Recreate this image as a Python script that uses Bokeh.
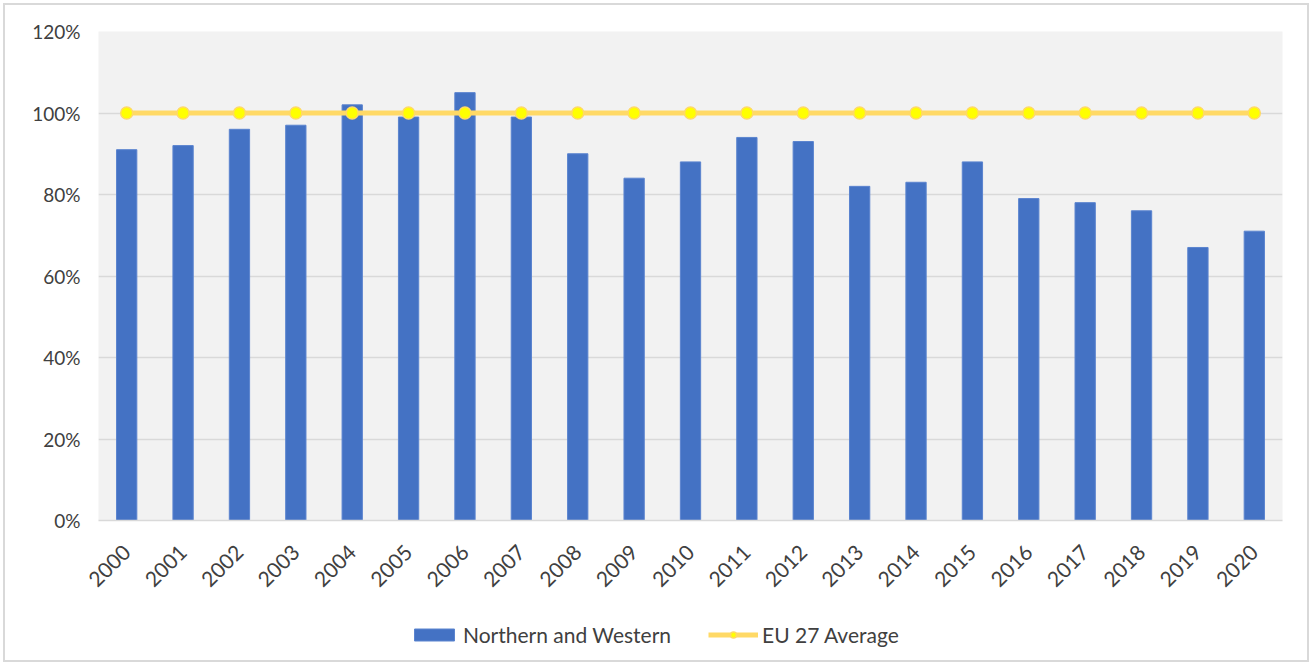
import math
from bokeh.plotting import figure
from bokeh.layouts import column
from bokeh.models import ColumnDataSource, Range1d, FactorRange, PrintfTickFormatter, Legend, LegendItem, FixedTicker
from bokeh.embed import file_html
from bokeh.resources import INLINE

years = [str(y) for y in range(2000, 2021)]
northern_western = [91, 92, 96, 97, 102, 99, 105, 99, 90, 84, 88, 94, 93, 82, 83, 88, 79, 78, 76, 67, 71]
eu27_average = [100] * 21
y_ticks = [0, 20, 40, 60, 80, 100, 120]

FONT = "Lato"
TXT = "#404040"
BAR_STYLE = dict(fill_color="#4472c4", line_color="#5b84cf", line_width=1)
LINE_STYLE = dict(line_color="#ffd966", line_width=5)
DOT_STYLE = dict(size=12, fill_color="#ffff00", line_color="#ffd966", line_width=1.5)

src = ColumnDataSource(dict(year=years, nw=northern_western, eu=eu27_average))

p = figure(width=1302, height=605, x_range=FactorRange(factors=years), y_range=Range1d(0, 120),
           output_backend="svg", toolbar_location=None,
           min_border_left=93, min_border_right=25, min_border_top=26, min_border_bottom=90)
p.background_fill_color = "#f2f2f2"
p.border_fill_color = "white"
p.outline_line_color = None

p.vbar(x="year", top="nw", width=0.36, source=src, **BAR_STYLE)
p.line(x="year", y="eu", source=src, **LINE_STYLE)
p.scatter(x="year", y="eu", source=src, **DOT_STYLE)

p.xgrid.grid_line_color = None
p.ygrid.grid_line_color = "#d9d9d9"
p.ygrid.grid_line_width = 1.5

p.yaxis.ticker = FixedTicker(ticks=y_ticks)
p.yaxis.formatter = PrintfTickFormatter(format="%d%%")
p.yaxis.axis_line_color = None
p.yaxis.major_tick_line_color = None
p.yaxis.minor_tick_line_color = None
p.yaxis.major_label_text_font = FONT
p.yaxis.major_label_text_font_size = "19px"
p.yaxis.major_label_text_color = TXT
p.yaxis.major_label_standoff = 12

p.xaxis.axis_line_color = "#d9d9d9"
p.xaxis.axis_line_width = 1.5
p.xaxis.major_tick_line_color = None
p.xaxis.minor_tick_line_color = None
p.xaxis.major_label_orientation = math.pi / 4
p.xaxis.major_label_text_font = FONT
p.xaxis.major_label_text_font_size = "21px"
p.xaxis.major_label_text_color = TXT
p.xaxis.major_label_standoff = 22

# legend strip below the chart: same data and styles, drawn out of view so only the legend shows
q = figure(width=1302, height=50, x_range=FactorRange(factors=years), y_range=Range1d(1000, 1001),
           x_axis_type=None, y_axis_type=None, output_backend="svg", toolbar_location=None,
           min_border=0)
q.outline_line_color = None
q.grid.visible = False
q.background_fill_color = "white"
lb = q.vbar(x="year", top="nw", width=0.36, source=src, **BAR_STYLE)
ll = q.line(x="year", y="eu", source=src, **LINE_STYLE)
ld = q.scatter(x="year", y="eu", source=src, **DOT_STYLE)

legend = Legend(items=[LegendItem(label="Northern and Western", renderers=[lb]),
                       LegendItem(label="EU 27 Average", renderers=[ll, ld])],
                orientation="horizontal", location=(311, 13),
                glyph_width=50, glyph_height=15, label_standoff=4, spacing=37,
                padding=0, margin=0, border_line_color=None, background_fill_alpha=0,
                label_text_font=FONT, label_text_font_size="21px", label_text_color=TXT)
q.add_layout(legend, "center")

layout = column(p, q, spacing=0)
layout.styles = {"border": "2px solid #d9d9d9", "margin-left": "3px", "margin-top": "3px"}

open("out.html", "w").write(file_html(layout, INLINE))
